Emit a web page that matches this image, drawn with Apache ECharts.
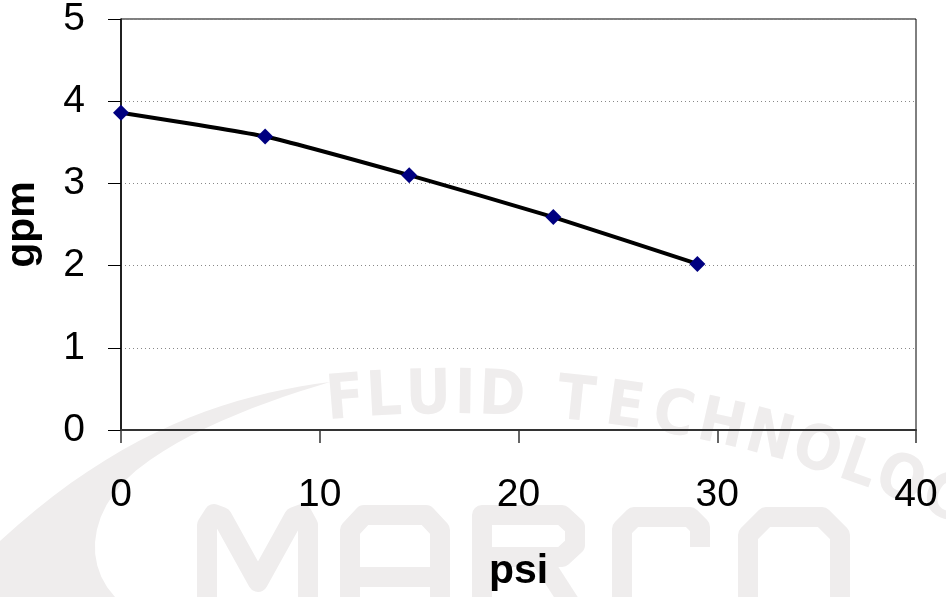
<!DOCTYPE html>
<html>
<head>
<meta charset="utf-8">
<script src="https://cdn.jsdelivr.net/npm/echarts@6/dist/echarts.min.js"></script>
<style>
  html, body { margin: 0; padding: 0; background: #fff; }
  #main { width: 946px; height: 597px; }
</style>
</head>
<body>
<div id="main"></div>
<script>
// data
var psi = [0, 7.25, 14.5, 21.75, 29];
var gpm = [3.86, 3.57, 3.1, 2.59, 2.02];
var xTicks = [0, 10, 20, 30, 40];
var yTicks = [0, 1, 2, 3, 4, 5];

var wm = '#efeded'; // watermark grey

// watermark: arc text "FLUID TECHNOLOGY"
function arcText(str) {
  var cx = 450, cy = 1628, R = 1200;
  var s = 0, out = [];
  var th0 = Math.asin((329 - cx) / R);
  for (var i = 0; i < str.length; i++) {
    var ch = str[i];
    var adv = (ch == 'I' || ch == ' ') ? 24 : (ch == 'L' || ch == 'F') ? 38 : 48;
    var th = th0 + (s + adv / 2) / R;
    s += adv;
    if (ch == ' ') continue;
    out.push({
      type: 'text', z: -10, silent: true,
      x: cx + R * Math.sin(th), y: cy - R * Math.cos(th),
      rotation: -th,
      style: {
        text: ch, fill: wm, align: 'center', verticalAlign: 'bottom',
        font: 'bold 62px "DejaVu Sans Condensed", "DejaVu Sans"'
      }
    });
  }
  return out;
}

// cubic bezier sampled into points (for the swoosh)
function bez(p0, p1, p2, p3, n) {
  var pts = [];
  for (var i = 0; i <= n; i++) {
    var t = i / n, u = 1 - t;
    pts.push([
      u * u * u * p0[0] + 3 * u * u * t * p1[0] + 3 * u * t * t * p2[0] + t * t * t * p3[0],
      u * u * u * p0[1] + 3 * u * u * t * p1[1] + 3 * u * t * t * p2[1] + t * t * t * p3[1]
    ]);
  }
  return pts;
}

// block letters of the "MARCO" logo, drawn as thick strokes
var marcoStrokes = [
  [[207, 700], [207, 525], [214, 514], [222, 517], [258, 582], [294, 517], [302, 514], [308, 525], [308, 700]], // M
  [[350, 700], [350, 530], [364, 515], [426, 515], [440, 530], [440, 700]], // A
  [[350, 577], [440, 577]],
  [[482, 700], [482, 515], [562, 515], [575, 527], [575, 545], [562, 557], [482, 557]], // R
  [[540, 557], [600, 650]],
  [[700, 547], [700, 527], [690, 517], [634, 517], [622, 529], [622, 700]], // C
  [[748, 700], [748, 535], [766, 517], [822, 517], [840, 535], [840, 700]] // O
];

var graphics = arcText('FLUID TECHNOLOGY');
marcoStrokes.forEach(function (pts) {
  graphics.push({
    type: 'polyline', z: -10, silent: true,
    shape: { points: pts },
    style: { stroke: wm, fill: null, lineWidth: 20, lineJoin: 'round' }
  });
});
// swoosh on the left
var swoosh = bez([330, 382], [230, 395], [120, 430], [0, 541], 20)
  .concat([[0, 597], [115, 597]])
  .concat(bez([115, 597], [80, 560], [90, 500], [150, 460], 12))
  .concat(bez([150, 460], [200, 425], [270, 400], [330, 382], 12));
graphics.push({
  type: 'polygon', z: -11, silent: true,
  shape: { points: swoosh },
  style: { fill: wm }
});

var chart = echarts.init(document.getElementById('main'));
chart.setOption({
  animation: false,
  graphic: graphics,
  grid: {
    left: 121, right: 30, top: 19, bottom: 167, outerBoundsMode: 'none',
    show: true, borderColor: '#000', borderWidth: 1
  },
  xAxis: {
    type: 'value', min: xTicks[0], max: xTicks[xTicks.length - 1], interval: 10,
    name: 'psi', nameLocation: 'middle', nameGap: 121,
    nameTextStyle: { fontFamily: 'Liberation Sans', fontWeight: 'bold', fontSize: 41, color: '#000' },
    axisLine: { lineStyle: { color: '#333', width: 2 } },
    axisTick: { length: 13, lineStyle: { color: '#333', width: 1.5 } },
    axisLabel: { margin: 46, fontFamily: 'Liberation Sans', fontSize: 39, color: '#000' },
    splitLine: { show: false }
  },
  yAxis: {
    type: 'value', min: yTicks[0], max: yTicks[yTicks.length - 1], interval: 1,
    name: 'gpm', nameLocation: 'middle', nameGap: 78,
    nameTextStyle: { fontFamily: 'Liberation Sans', fontWeight: 'bold', fontSize: 41, color: '#000' },
    axisLine: { show: true, lineStyle: { color: '#000', width: 1.5 } },
    axisTick: { show: true, length: 13, lineStyle: { color: '#000', width: 1 } },
    axisLabel: { margin: 36, fontFamily: 'Liberation Sans', fontSize: 39, color: '#000' },
    splitLine: { show: true, lineStyle: { color: '#888', type: [1, 3], width: 1 } }
  },
  series: [{
    type: 'line',
    data: psi.map(function (x, i) { return [x, gpm[i]]; }),
    smooth: 0.15,
    symbol: 'diamond', symbolSize: 16,
    itemStyle: { color: '#000080' },
    lineStyle: { color: '#000', width: 4 },
    z: 3
  }]
});
</script>
</body>
</html>
